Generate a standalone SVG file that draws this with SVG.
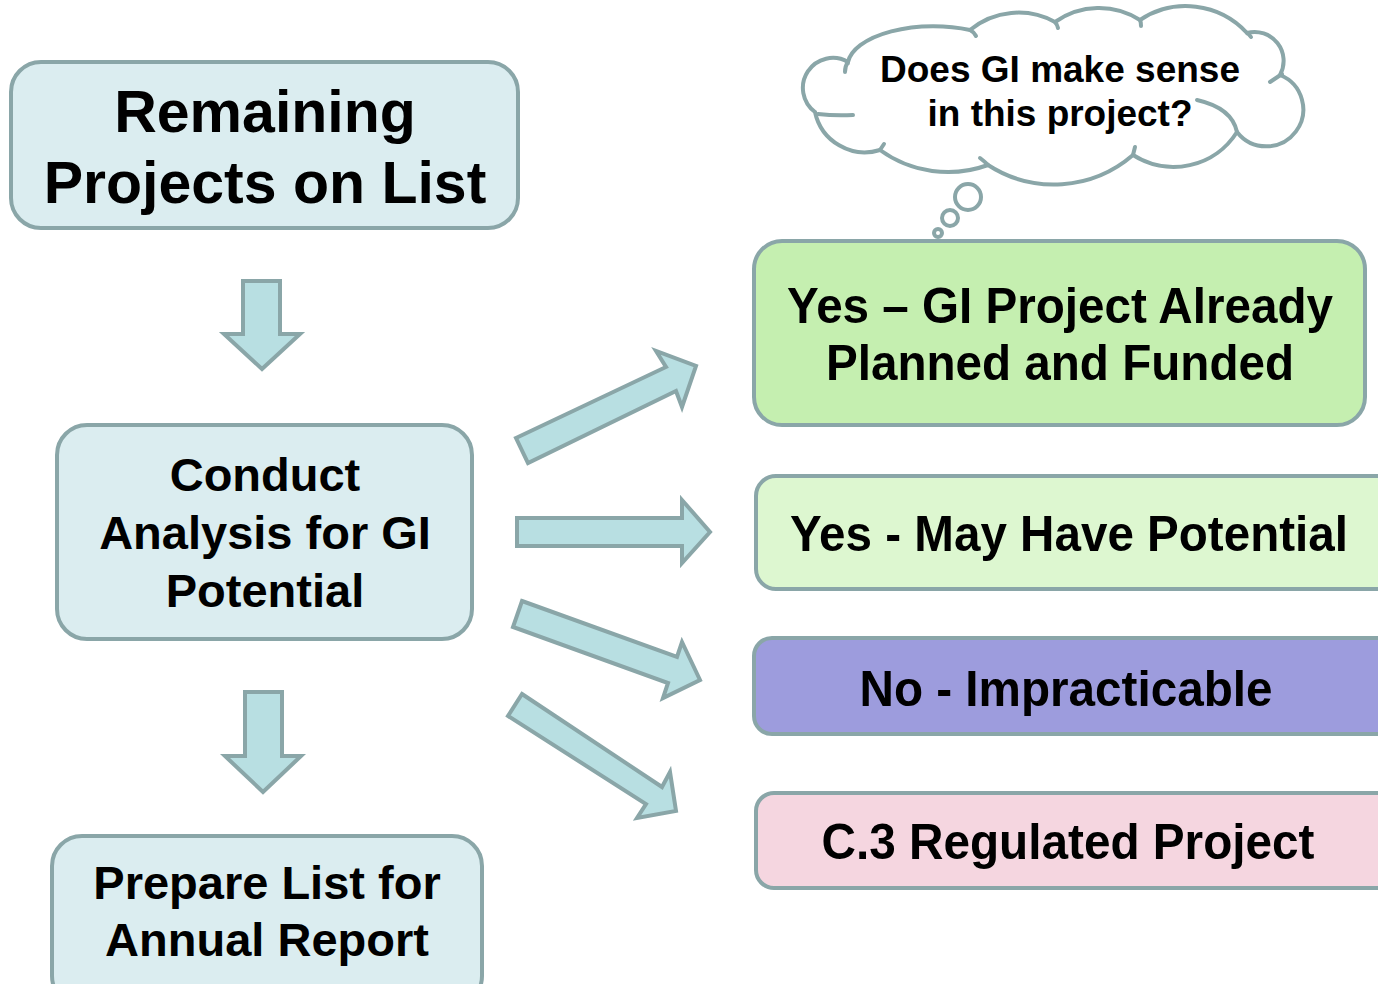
<svg xmlns="http://www.w3.org/2000/svg" width="1378" height="984" viewBox="0 0 1378 984">
<style>
.box{stroke:#8aa6a8;stroke-width:4}
.blue{fill:#dbedf0}
.arr{fill:#b8dfe2;stroke:#8aa6a8;stroke-width:4;stroke-linejoin:miter}
.t{font-family:"Liberation Sans",Arial,sans-serif;font-weight:bold;fill:#000;text-anchor:middle}
.cloud{fill:#fff;stroke:#8aa6a8;stroke-width:4;stroke-linecap:round}
.hook{fill:none;stroke:#8aa6a8;stroke-width:4;stroke-linecap:round}
</style>
<rect width="1378" height="984" fill="#fff"/>
<g id="connectors">
<polygon class="arr" points="243,281 280,281 280,334 300,334 262,369 224,334 243,334"/>
<polygon class="arr" points="245,692 282,692 282,756 301,756 263,792 225,756 245,756"/>
<polygon class="arr" points="516,438 666,367 656,351 696,366 682,407 676,391 528,463"/>
<polygon class="arr" points="517,518 682,518 682,500 710,532 682,563 682,546 517,546"/>
<polygon class="arr" points="522,601 677,657 682,642 700,680 663,698 668,683 513,627"/>
<polygon class="arr" points="522,694 662,787 670,772 676,811 637,818 646,804 508,716"/>
</g>
<g id="n1">
<rect class="box blue" x="11" y="62" width="507" height="166" rx="30"/>
<text class="t" x="265" y="132" font-size="59">Remaining</text>
<text class="t" x="265" y="203" font-size="59">Projects on List</text>
</g>
<g id="n2">
<rect class="box blue" x="57" y="425" width="415" height="214" rx="30"/>
<text class="t" x="265" y="491" font-size="47">Conduct</text>
<text class="t" x="265" y="549" font-size="47">Analysis for GI</text>
<text class="t" x="265" y="607" font-size="47">Potential</text>
</g>
<g id="n3">
<rect class="box blue" x="52" y="836" width="430" height="170" rx="30"/>
<text class="t" x="267" y="899" font-size="47">Prepare List for</text>
<text class="t" x="267" y="956" font-size="47">Annual Report</text>
</g>
<g id="cloud">
<path class="cloud" d="M815,112 A30,30 0 0 1 848,62 A86,40 0 0 1 970,30 A76,76 0 0 1 1055,22 A76,76 0 0 1 1140,20 A83,83 0 0 1 1247,33 A29,29 0 0 1 1280,75 A37,37 0 1 1 1237,132 A75,75 0 0 1 1133,155 A121,121 0 0 1 988,165 A116,116 0 0 1 880,150 A51,51 0 0 1 815,112 Z"/>
<path class="hook" d="M818,114 Q835,116 853,115"/>
<path class="hook" d="M848,62 Q845,66 845,72"/>
<path class="hook" d="M970,30 Q974,32 976,36"/>
<path class="hook" d="M1055,22 Q1057,24 1058,28"/>
<path class="hook" d="M1140,20 Q1141,22 1141,26"/>
<path class="hook" d="M1247,33 Q1249,34 1251,37"/>
<path class="hook" d="M1282,74 Q1276,78 1270,82"/>
<path class="hook" d="M1197,100 Q1232,108 1237,132"/>
<path class="hook" d="M1133,155 Q1134,151 1135,147"/>
<path class="hook" d="M988,165 Q984,161 980,158"/>
<path class="hook" d="M880,150 Q882,147 884,144"/>
<circle class="cloud" cx="968" cy="197" r="13"/>
<circle class="cloud" cx="950" cy="218" r="8"/>
<circle class="cloud" cx="938" cy="233" r="4"/>
<text class="t" x="1060" y="82" font-size="37" textLength="360" lengthAdjust="spacingAndGlyphs">Does GI make sense</text>
<text class="t" x="1060" y="126" font-size="37" textLength="265" lengthAdjust="spacingAndGlyphs">in this project?</text>
</g>
<g id="n4">
<rect class="box" fill="#c5efb0" x="754" y="241" width="611" height="184" rx="28"/>
<text class="t" x="1060" y="323" font-size="50" textLength="546" lengthAdjust="spacingAndGlyphs">Yes – GI Project Already</text>
<text class="t" x="1060" y="380" font-size="50" textLength="468" lengthAdjust="spacingAndGlyphs">Planned and Funded</text>
</g>
<g id="n5">
<rect class="box" fill="#ddf7d0" x="756" y="476" width="640" height="113" rx="20"/>
<text class="t" x="1069" y="551" font-size="50" textLength="558" lengthAdjust="spacingAndGlyphs">Yes - May Have Potential</text>
</g>
<g id="n6">
<rect class="box" fill="#9d9cdd" x="754" y="638" width="640" height="96" rx="18"/>
<text class="t" x="1066" y="706" font-size="50" textLength="413" lengthAdjust="spacingAndGlyphs">No - Impracticable</text>
</g>
<g id="n7">
<rect class="box" fill="#f5d6e0" x="756" y="793" width="640" height="95" rx="18"/>
<text class="t" x="1068" y="859" font-size="50" textLength="493" lengthAdjust="spacingAndGlyphs">C.3 Regulated Project</text>
</g>
</svg>
